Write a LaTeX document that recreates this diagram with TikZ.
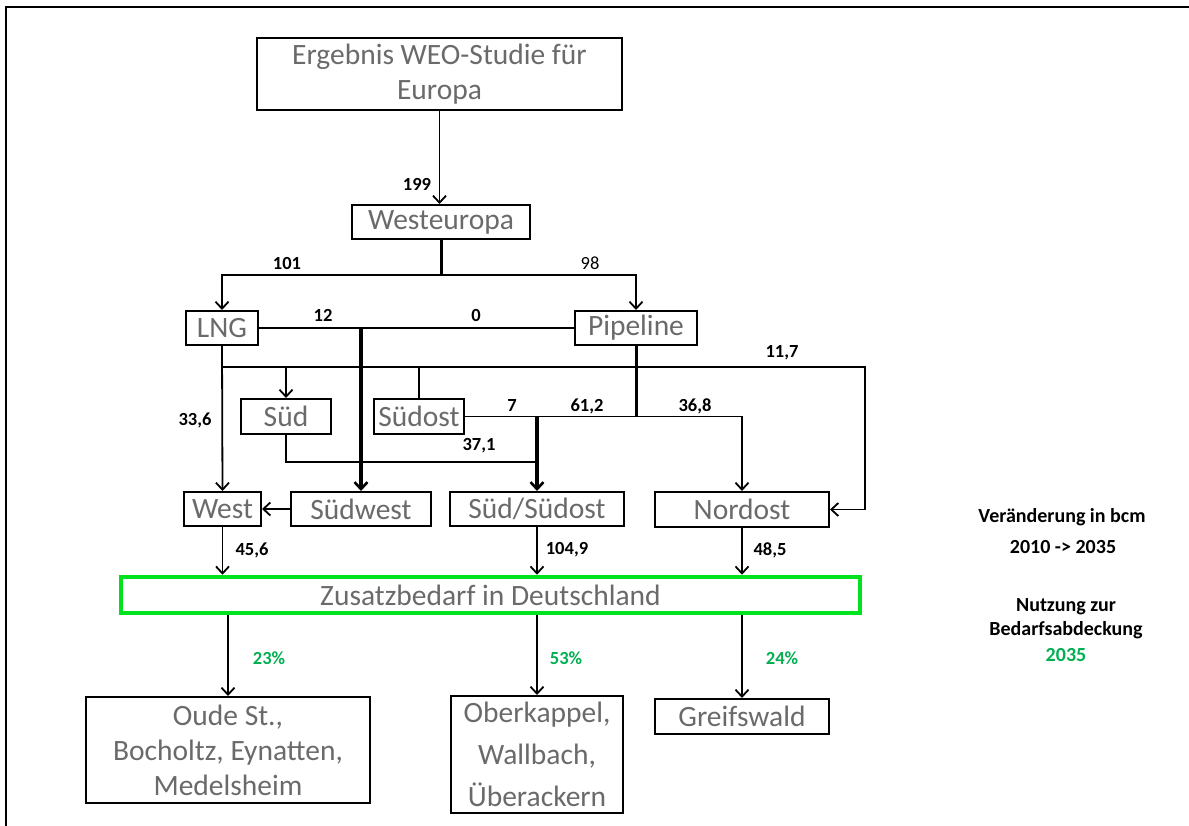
\documentclass[tikz,border=0pt]{standalone}
\usepackage{fontspec}
\setmainfont{Carlito}
\usetikzlibrary{arrows.meta}
\definecolor{boxtext}{RGB}{106,106,106}
\definecolor{pctgreen}{RGB}{0,176,80}
\definecolor{zgreen}{RGB}{0,226,30}
\begin{document}
\begin{tikzpicture}[x=1pt,y=-1pt,
  box/.style={draw=black,line width=2pt,inner sep=0pt,text=boxtext,
    font=\fontsize{29.5}{35}\selectfont,align=center,anchor=center},
  lbl/.style={font=\fontsize{18.5}{22}\selectfont\bfseries,inner sep=0pt,anchor=center},
  pct/.style={lbl,text=pctgreen},
  conn/.style={line width=1.8pt},
  arr/.style={conn,-{Straight Barb[length=7pt,width=13pt,line width=1.8pt]}},
  thickconn/.style={line width=3pt},
  thickarr/.style={line width=3.5pt,-{Straight Barb[length=7pt,width=13pt,line width=2.6pt]}},
  note/.style={font=\fontsize{20}{24}\selectfont\bfseries,align=center,inner sep=0pt,anchor=center}
]
\useasboundingbox (0,0) rectangle (1189,826);
% frame (top and left edges)
\draw[line width=2pt] (6,826) -- (6,7) -- (1189,7);

% nodes
\node[box,minimum width=365pt,minimum height=72pt] (top) at (439.5,74) {Ergebnis WEO-Studie für\\Europa};
\node[box,minimum width=178pt,minimum height=34pt] (weu) at (441,222) {Westeuropa};
\node[box,minimum width=72pt,minimum height=34pt] (lng) at (222,328) {LNG};
\node[box,minimum width=122pt,minimum height=34pt] (pipe) at (636,328) {Pipeline};
\node[box,minimum width=90pt,minimum height=35pt] (sued) at (286,416.5) {Süd};
\node[box,minimum width=90pt,minimum height=35pt] (suedost) at (419,416.5) {Südost};
\node[box,minimum width=77pt,minimum height=34pt] (west) at (222.5,509) {West};
\node[box,minimum width=140pt,minimum height=34pt] (suedwest) at (361,509) {Südwest};
\node[box,minimum width=174pt,minimum height=34pt] (ss) at (537,509) {Süd/Südost};
\node[box,minimum width=174pt,minimum height=35pt] (nordost) at (742,509.5) {Nordost};
\node[box,draw=zgreen,line width=4.5pt,minimum width=739pt,minimum height=36pt] (zus) at (490.5,595) {Zusatzbedarf in Deutschland};
\node[box,minimum width=284pt,minimum height=106pt] (oude) at (228,750) {Oude St.,\\Bocholtz, Eynatten,\\Medelsheim};
\node[box,minimum width=172pt,minimum height=117pt,font=\fontsize{29.5}{42}\selectfont] (ober) at (537,754.5) {Oberkappel,\\Wallbach,\\Überackern};
\node[box,minimum width=174pt,minimum height=35pt] (greif) at (742,716.5) {Greifswald};

% coordinates
\coordinate (split) at (441,275);
\coordinate (j1) at (222,367);
\coordinate (r117) at (865,367);

% connectors
\draw[arr] (top.south) -- (top.south |- weu.north);
\draw[thickconn] (weu.south) -- (split);
\draw[arr] (split) -| (lng.north);
\draw[arr] (split) -| (pipe.north);
\draw[conn] (lng.east) -- (pipe.west);
\draw[thickarr] (lng.east -| suedwest.north) -- (suedwest.north);
\draw[arr] (lng.south) -- (west.north);
\draw[conn] (j1) -- (r117) -- (r117 |- nordost.east);
\draw[arr] (r117 |- nordost.east) -- (nordost.east);
\draw[arr] (j1 -| sued.north) -- (sued.north);
\draw[conn] (suedost.north) -- (suedost.north |- j1);
\draw[thickconn] (pipe.south) -- (pipe.south |- suedost.east);
\draw[arr] (suedost.east) -| (nordost.north);
\draw[conn] (sued.south) |- (ss.north |- 0,462);
\draw[thickarr] (ss.north |- suedost.east) -- (ss.north);
\draw[arr] (suedwest.west) -- (west.east);
\draw[arr] (west.south) -- (west.south |- zus.north);
\draw[arr] (ss.south) -- (ss.south |- zus.north);
\draw[arr] (nordost.south) -- (nordost.south |- zus.north);
\draw[arr] (zus.south -| oude.north) -- (oude.north);
\draw[arr] (zus.south -| ober.north) -- (ober.north);
\draw[arr] (zus.south -| greif.north) -- (greif.north);

% labels
\node[lbl] (l199) at (417,184) {199};
\node[lbl] (l101) at (287,263) {101};
\node[lbl,font=\fontsize{18.5}{22}\selectfont] (l98) at (590,263) {98};
\node[lbl] (l12) at (323,315) {12};
\node[lbl] (l0) at (476,315) {0};
\node[lbl] (l117) at (782,353) {11,7};
\node[lbl] (l336) at (195,420) {33,6};
\node[lbl] (l7) at (512,406) {7};
\node[lbl] (l612) at (587,406) {61,2};
\node[lbl] (l368) at (695,406) {36,8};
\node[lbl] (l371) at (479,446) {37,1};
\node[lbl] (l456) at (252,550) {45,6};
\node[lbl] (l1049) at (567,550) {104,9};
\node[lbl] (l485) at (770,550) {48,5};
\node[pct] (p23) at (269,658) {23\%};
\node[pct] (p53) at (566,658) {53\%};
\node[pct] (p24) at (782,658) {24\%};

\node[note] (n1) at (1062,517) {Veränderung in bcm};
\node[note] (n2) at (1063,547) {2010 -> 2035};
\node[note] (n3) at (1066,619) {Nutzung zur\\Bedarfsabdeckung};
\node[note,text=pctgreen] (n4) at (1066,655) {2035};
\end{tikzpicture}
\end{document}
